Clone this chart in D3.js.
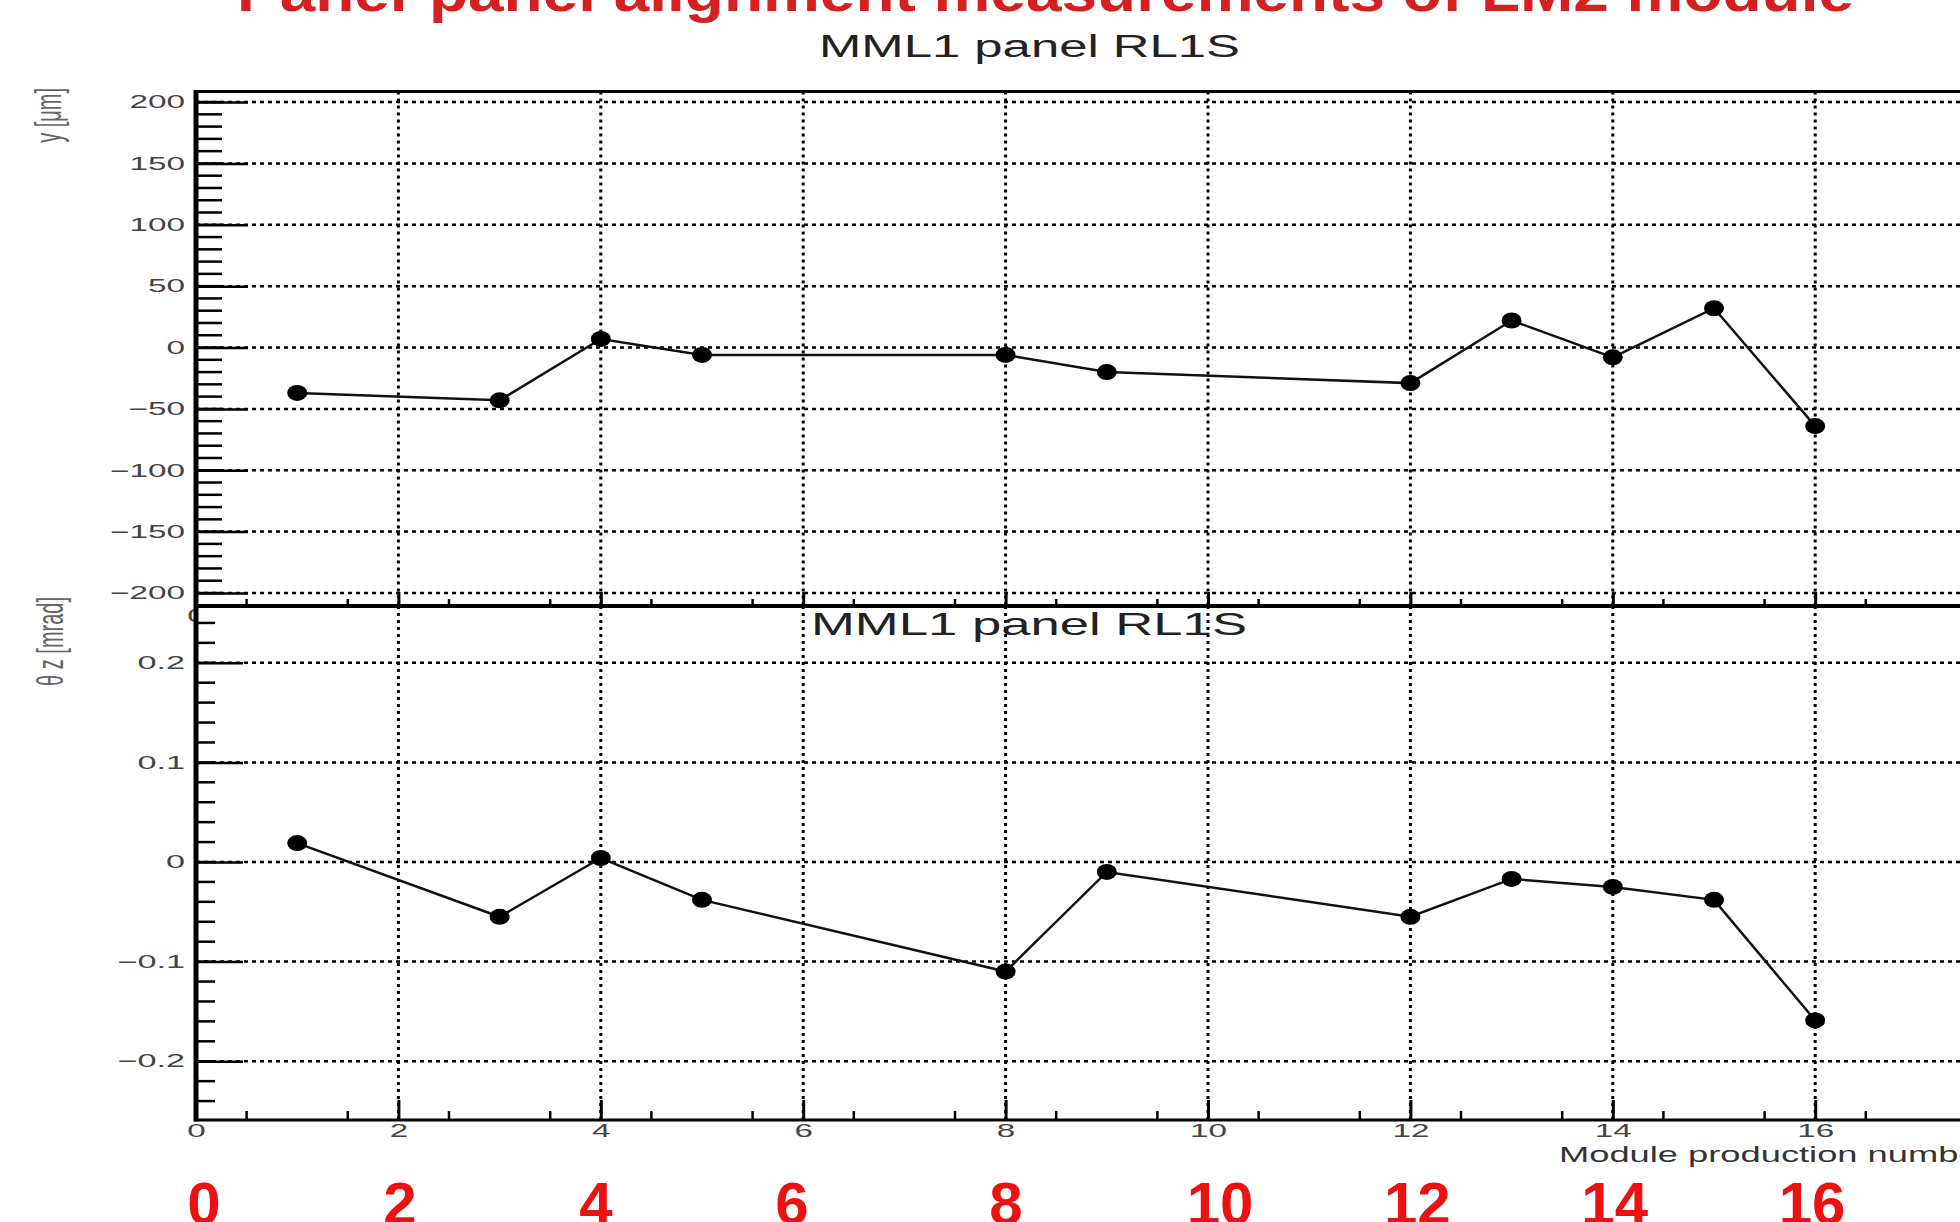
<!DOCTYPE html>
<html lang="en">
<head>
  <meta charset="UTF-8">
  <title>Panel-panel alignment measurements of LM2 module</title>
  <script src="https://cdn.jsdelivr.net/npm/d3@7"></script>
  <style>
    html, body { margin: 0; padding: 0; background: #fff; }
    svg { display: block; font-family: "Liberation Sans", Arial, sans-serif; }
    .grid-h { stroke: #000; stroke-width: 2.5; stroke-dasharray: 4 4; }
    .grid-v { stroke: #000; stroke-width: 3; stroke-dasharray: 3 4; }
    .frame { stroke: #000; }
    .tick-minor { stroke: #000; stroke-width: 2.5; }
    .series { fill: none; stroke: #111; stroke-width: 2.5; }
    .dot { fill: #000; }
  </style>
</head>
<body>
  <svg width="1960" height="1222"></svg>

  <script>
    const modules = [1, 3, 4, 5, 8, 9, 12, 13, 14, 15, 16]
    const dyValues = [-37, -43, 7, -6, -6, -20, -29, 22, -8, 32, -64]
    const tzValues = [0.019, -0.055, 0.004, -0.038, -0.110, -0.010, -0.055, -0.017, -0.025, -0.038, -0.159]
    const xTicks = [0, 2, 4, 6, 8, 10, 12, 14, 16]
    const dyTicks = [-200, -150, -100, -50, 0, 50, 100, 150, 200]
    const tzTicks = [-0.2, -0.1, 0, 0.1, 0.2]
    const redLabels = ['0', '2', '4', '6', '8', '10', '12', '14', '16']
    const mainTitle = 'Panel-panel alignment measurements of LM2 module'
    const panelTitle = 'MML1 panel RL1S'
    const xTitle = 'Module production number'
    const dyTitle = 'y [μm]'
    const tzTitle = 'θ z [mrad]'

    const svg = d3.select('svg')
    const x = d3.scaleLinear().domain([0, 18]).range([196, 196 + 18 * 101.2])
    const yTop = d3.scaleLinear().domain([-210.6, 208.6]).range([606, 91.5])
    const yBot = d3.scaleLinear().domain([-0.259, 0.257]).range([1120, 606])
    const xEnd = x.range()[1]
    // the big red numbers underneath don't follow the axis spacing exactly
    const xRed = d3.scaleLinear().domain([0, 6, 10, 16]).range([204, 792, 1220, 1812])

    // ROOT picture is stretched sideways, so text gets widened too
    function stretch(sel, sx) {
      sel.each(function () {
        const t = d3.select(this)
        const tx = +t.attr('x') || 0
        t.attr('x', tx / sx).attr('transform', `scale(${sx},1)`)
      })
    }

    function styleAxis(g, size) {
      g.select('.domain').remove()
      g.attr('font-family', null).attr('font-size', size)
      g.selectAll('line').attr('stroke', '#000').attr('stroke-width', 2.5)
      g.selectAll('text').attr('fill', '#444')
    }

    function panel(opt) {
      const y = opt.y
      const [yb, yt] = y.range()
      const g = svg.append('g')

      // dotted grid
      g.append('g').selectAll('line').data(opt.major).join('line')
        .attr('class', 'grid-h')
        .attr('x1', x(0)).attr('x2', xEnd)
        .attr('y1', y).attr('y2', y)
      g.append('g').selectAll('line').data(xTicks.filter(d => d > 0)).join('line')
        .attr('class', 'grid-v')
        .attr('x1', x).attr('x2', x)
        .attr('y1', yt).attr('y2', yb)

      // graph
      const pts = modules.map((m, i) => [m, opt.values[i]])
      g.append('path')
        .attr('class', 'series')
        .attr('d', d3.line().x(d => x(d[0])).y(d => y(d[1]))(pts))
      g.selectAll('.dot').data(pts).join('ellipse')
        .attr('class', 'dot')
        .attr('cx', d => x(d[0])).attr('cy', d => y(d[1]))
        .attr('rx', 10).attr('ry', 8)

      // y minor ticks
      g.append('g').selectAll('line').data(opt.minor).join('line')
        .attr('class', 'tick-minor')
        .attr('x1', x(0)).attr('x2', x(0) + opt.minorLen)
        .attr('y1', y).attr('y2', y)

      // y major ticks + labels
      const ya = g.append('g')
        .attr('transform', `translate(${x(0)},0)`)
        .call(d3.axisLeft(y).tickValues(opt.major).tickSize(-opt.majorLen).tickPadding(11).tickFormat(opt.fmt))
      styleAxis(ya, 18)
      stretch(ya.selectAll('text'), opt.sx)

      // x minor ticks
      g.append('g').selectAll('line').data(d3.range(0.5, 18, 1)).join('line')
        .attr('class', 'tick-minor')
        .attr('x1', x).attr('x2', x)
        .attr('y1', yb).attr('y2', yb - opt.xMinorLen)
        .attr('stroke-width', 3)

      // x major ticks + labels
      const xa = g.append('g')
        .attr('transform', `translate(0,${yb})`)
        .call(d3.axisBottom(x).tickValues(xTicks).tickSize(-opt.xMajorLen).tickPadding(opt.xPad))
      styleAxis(xa, 19)
      xa.selectAll('line').attr('stroke-width', 3)
      stretch(xa.selectAll('text'), 1.75)

      return g
    }

    // upper pad
    panel({
      y: yTop, values: dyValues, major: dyTicks,
      minor: d3.range(-200, 201, 10),
      majorLen: 52, minorLen: 26, sx: 1.85,
      fmt: d3.format('d'),
      xMajorLen: 14, xMinorLen: 7, xPad: 3
    })

    // lower pad covers most of the upper pad's x labels
    svg.append('rect')
      .attr('x', 195).attr('y', 608)
      .attr('width', 1960 - 195).attr('height', 40)
      .attr('fill', '#fff')

    panel({
      y: yBot, values: tzValues, major: tzTicks,
      minor: d3.range(-24, 25, 2).map(v => v / 100),
      majorLen: 47, minorLen: 19, sx: 1.9,
      fmt: d => d === 0 ? '0' : d3.format('.1f')(d),
      xMajorLen: 20, xMinorLen: 9, xPad: 4
    })

    // frame lines
    const frame = svg.append('g').attr('class', 'frame')
    frame.append('line').attr('x1', 194).attr('x2', xEnd).attr('y1', 91.5).attr('y2', 91.5).attr('stroke-width', 3)
    frame.append('line').attr('x1', 194).attr('x2', xEnd).attr('y1', 606).attr('y2', 606).attr('stroke-width', 4)
    frame.append('line').attr('x1', 194).attr('x2', xEnd).attr('y1', 1120).attr('y2', 1120).attr('stroke-width', 3)
    frame.append('line').attr('x1', 196).attr('x2', 196).attr('y1', 90).attr('y2', 1121.5).attr('stroke-width', 5)

    // titles (the red one is cut off by the top edge, as in the original)
    svg.append('text')
      .attr('x', 237).attr('y', 11)
      .attr('textLength', 1617).attr('lengthAdjust', 'spacingAndGlyphs')
      .attr('font-size', 56).attr('font-weight', 'bold')
      .attr('fill', '#d42020')
      .text(mainTitle)

    svg.append('text')
      .attr('x', 819).attr('y', 57)
      .attr('textLength', 421).attr('lengthAdjust', 'spacingAndGlyphs')
      .attr('font-size', 31).attr('fill', '#222')
      .text(panelTitle)

    svg.append('text')
      .attr('x', 811).attr('y', 635)
      .attr('textLength', 436).attr('lengthAdjust', 'spacingAndGlyphs')
      .attr('font-size', 32).attr('fill', '#222')
      .text(panelTitle)

    svg.append('text')
      .attr('transform', 'translate(1559,1162) scale(1.65,1)')
      .attr('font-size', 22).attr('fill', '#333')
      .text(xTitle)

    svg.append('text')
      .attr('transform', 'translate(61,88) scale(1.8,1) rotate(-90)')
      .attr('text-anchor', 'end')
      .attr('font-size', 20).attr('fill', '#666')
      .text(dyTitle)

    svg.append('text')
      .attr('transform', 'translate(63,597) scale(1.8,1) rotate(-90)')
      .attr('text-anchor', 'end')
      .attr('font-size', 20).attr('fill', '#666')
      .text(tzTitle)

    // big red numbers along the bottom
    svg.append('g').selectAll('text').data(redLabels).join('text')
      .attr('x', d => xRed(+d)).attr('y', 1224)
      .attr('text-anchor', 'middle')
      .attr('font-size', 60).attr('font-weight', 'bold')
      .attr('fill', '#ee1111')
      .text(d => d)
  </script>
</body>
</html>
